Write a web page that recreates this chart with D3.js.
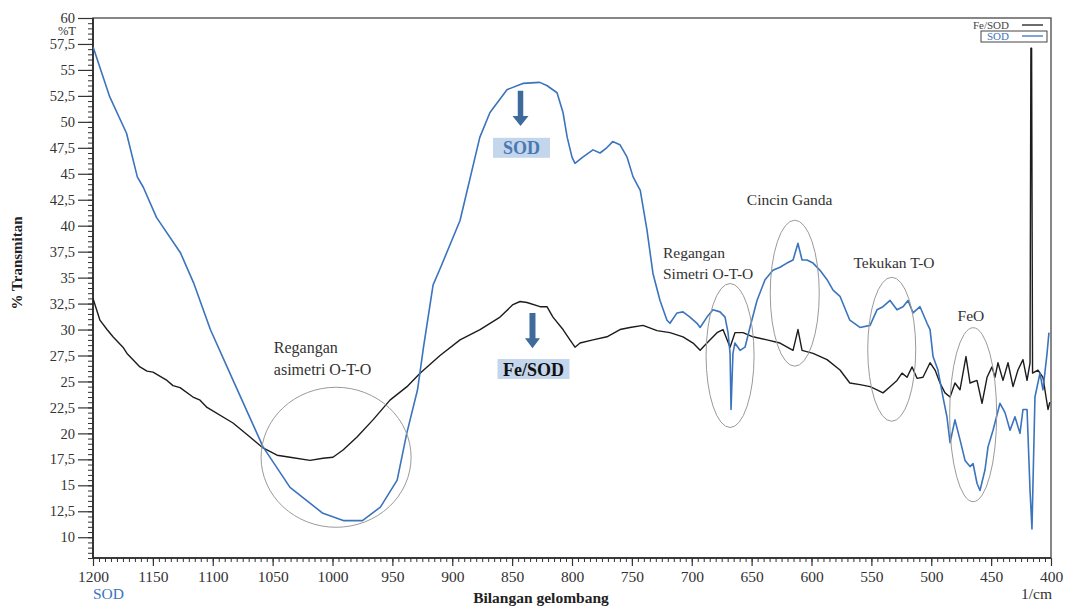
<!DOCTYPE html>
<html>
<head>
<meta charset="utf-8">
<script src="https://cdn.jsdelivr.net/npm/d3@7"></script>
<style>
  body { margin: 0; background: #fff; }
  svg { display: block; }
  text { font-family: "Liberation Serif", "Times New Roman", serif; }
</style>
</head>
<body>
<svg id="chart" width="1065" height="607"></svg>
<script>
// FTIR spectra: wavenumber (1/cm) and % transmittance
const sodWavenumber = [1200, 1199, 1186, 1172, 1163, 1158, 1147, 1127, 1116, 1102, 1083, 1058, 1035.5, 1008, 991, 975, 960, 946, 938, 929, 924, 916, 910, 893.5, 877, 868.5, 854.3, 841, 827, 821, 812.5, 807.5, 804, 800, 797.5, 791, 782.5, 776.6, 771, 766, 760, 754, 749, 743, 737.4, 732.4, 726.5, 720.7, 718.2, 712.3, 707.3, 701.5, 695.6, 693, 687.3, 682.3, 676.4, 672.2, 669.7, 668, 667.2, 665.6, 664, 659.7, 655.5, 651.4, 645.5, 638.8, 632.2, 626.3, 620.5, 615.4, 611.3, 607.9, 603.8, 598.7, 592.9, 587, 582, 576.2, 568, 559.5, 551.1, 545.3, 540.3, 534.4, 528.6, 523.6, 519.4, 515.2, 509.4, 503.5, 501, 498.5, 494.4, 490.2, 486.9, 484.3, 480.2, 476, 471.8, 467.6, 465.1, 461.8, 459.3, 455.1, 452.6, 448.4, 442.6, 438.4, 434.2, 430.1, 425.9, 423.4, 420, 417.5, 415.9, 413.4, 409.2, 406.7, 403.3, 401.7];
const sodTransmittance = [57.2, 56.9, 52.4, 48.9, 44.7, 43.7, 40.8, 37.4, 34.5, 30.0, 25.1, 18.7, 14.8, 12.3, 11.6, 11.6, 12.9, 15.5, 20.0, 24.2, 28.3, 34.3, 35.9, 40.5, 48.5, 50.9, 53.1, 53.7, 53.8, 53.5, 52.8, 50.9, 48.5, 46.6, 46.0, 46.6, 47.3, 47.0, 47.5, 48.1, 47.8, 46.6, 44.7, 43.4, 39.6, 35.4, 32.8, 30.9, 30.6, 31.6, 31.7, 31.2, 30.6, 30.2, 31.2, 31.9, 31.7, 31.2, 29.7, 27.7, 22.3, 27.7, 28.7, 28.0, 28.3, 30.2, 32.8, 34.8, 35.7, 36.0, 36.4, 36.7, 38.3, 36.7, 36.7, 36.4, 35.7, 34.8, 33.8, 33.2, 30.9, 30.2, 30.4, 31.9, 32.2, 32.8, 31.9, 32.2, 32.8, 31.6, 32.2, 30.6, 30.0, 27.4, 26.1, 23.5, 21.6, 19.1, 21.3, 19.4, 17.4, 16.8, 17.1, 15.2, 14.5, 16.5, 18.7, 20.3, 22.9, 22.0, 20.3, 21.6, 20.0, 22.3, 22.3, 14.5, 10.8, 23.5, 25.8, 24.2, 27.7, 29.7];

const feSodWavenumber = [1200, 1194.2, 1188.3, 1183.3, 1175, 1171.6, 1160.8, 1154.9, 1149.9, 1138.2, 1133.2, 1127.3, 1116.5, 1110.6, 1104.8, 1083.1, 1068.9, 1058, 1046.3, 1035.5, 1018.8, 1007.9, 999.6, 991.2, 979.5, 966.2, 952, 937.8, 926.9, 910.2, 893.5, 876.8, 860.1, 849.3, 843.4, 837.6, 826.7, 820.9, 815.9, 807.5, 801.7, 797.5, 793.3, 782.5, 770.8, 759.9, 751.6, 740.7, 729, 718.2, 707.3, 698.9, 693, 687.3, 678.9, 673.9, 668, 663.9, 657.2, 648.9, 637.2, 626.3, 615.4, 611.3, 607.9, 598.7, 587, 576.2, 568, 559.5, 551.1, 545.3, 540.3, 534.4, 528.6, 524.4, 520.2, 516, 511.9, 506.9, 501, 496.8, 492.7, 488.5, 484.3, 480.2, 476, 471, 467.6, 461.8, 457.6, 453.4, 449.3, 446.8, 444.3, 440.1, 435.9, 431.7, 427.6, 423.4, 420, 417.5, 416.8, 416.2, 415.4, 410.9, 406.7, 402.5, 401];
const feSodTransmittance = [33.0, 30.9, 30.0, 29.3, 28.3, 27.7, 26.4, 26.0, 25.9, 25.1, 24.6, 24.4, 23.5, 23.2, 22.5, 21.0, 19.65, 18.6, 17.9, 17.7, 17.4, 17.6, 17.7, 18.4, 19.65, 21.3, 23.2, 24.5, 25.8, 27.5, 29.0, 30.0, 31.2, 32.4, 32.7, 32.6, 32.2, 32.2, 31.2, 30.0, 29.0, 28.3, 28.7, 29.0, 29.3, 30.0, 30.2, 30.4, 29.9, 29.7, 29.3, 28.7, 28.0, 28.7, 29.7, 30.0, 28.3, 29.7, 29.7, 29.3, 29.0, 28.7, 28.0, 30.0, 28.0, 27.7, 27.1, 26.1, 24.85, 24.7, 24.5, 24.2, 23.9, 24.5, 25.1, 25.8, 25.4, 26.4, 25.3, 25.4, 26.8, 26.1, 24.85, 23.9, 23.5, 24.85, 24.2, 27.4, 24.85, 25.1, 22.9, 25.4, 26.4, 25.4, 26.8, 25.1, 26.8, 24.5, 26.1, 27.1, 25.1, 26.8, 57.1, 57.1, 25.8, 26.1, 25.4, 22.3, 23.0];

const xTickValues = [1200, 1150, 1100, 1050, 1000, 950, 900, 850, 800, 750, 700, 650, 600, 550, 500, 450, 400];
const yTickValues = [10, 12.5, 15, 17.5, 20, 22.5, 25, 27.5, 30, 32.5, 35, 37.5, 40, 42.5, 45, 47.5, 50, 52.5, 55, 57.5, 60];

const BLUE = "#3b74bd";
const BLACK = "#1c1c1c";

const svg = d3.select("#chart");
const plotLeft = 93, plotRight = 1051, plotTop = 18, plotBottom = 558;

const x = d3.scaleLinear().domain([1200, 400]).range([plotLeft, plotRight]);
const y = d3.scaleLinear().domain([8, 60]).range([plotBottom, plotTop]);

svg.append("defs").append("clipPath").attr("id", "plotClip")
  .append("rect").attr("x", plotLeft).attr("y", plotTop)
  .attr("width", plotRight - plotLeft).attr("height", plotBottom - plotTop);

// ---- axes ----
const fmt = d => String(d).replace(".", ",");

const yMinor = d3.range(8, 60.01, 0.5);
svg.append("g").attr("transform", `translate(${plotLeft},0)`)
  .call(d3.axisLeft(y).tickValues(yMinor).tickSize(5).tickFormat(""))
  .call(g => g.select(".domain").remove())
  .call(g => g.selectAll("line").attr("stroke", "#333").attr("stroke-width", 1));

svg.append("g").attr("transform", `translate(${plotLeft},0)`)
  .call(d3.axisLeft(y).tickValues(yTickValues).tickSize(15).tickPadding(3).tickFormat(fmt))
  .call(g => g.select(".domain").remove())
  .call(g => g.selectAll("line").attr("stroke", "#333").attr("stroke-width", 1.2))
  .call(g => g.selectAll("text").attr("font-size", 14.5).attr("fill", "#333")
    .attr("font-family", "Liberation Serif, serif"));

const xMinor = d3.range(400, 1200.01, 5);
svg.append("g").attr("transform", `translate(0,${plotBottom})`)
  .call(d3.axisBottom(x).tickValues(xMinor).tickSize(4).tickFormat(""))
  .call(g => g.select(".domain").remove())
  .call(g => g.selectAll("line").attr("stroke", "#333").attr("stroke-width", 1));

svg.append("g").attr("transform", `translate(0,${plotBottom})`)
  .call(d3.axisBottom(x).tickValues(xTickValues).tickSize(8).tickPadding(5).tickFormat(d => d))
  .call(g => g.select(".domain").remove())
  .call(g => g.selectAll("line").attr("stroke", "#333").attr("stroke-width", 1.2))
  .call(g => g.selectAll("text").attr("font-size", 15.5).attr("fill", "#333")
    .attr("font-family", "Liberation Serif, serif"));

// frame
svg.append("rect").attr("x", plotLeft).attr("y", plotTop)
  .attr("width", plotRight - plotLeft).attr("height", plotBottom - plotTop)
  .attr("fill", "none").attr("stroke", "#555").attr("stroke-width", 1.4);
svg.append("line").attr("x1", plotLeft).attr("x2", plotLeft).attr("y1", plotTop).attr("y2", plotBottom)
  .attr("stroke", "#222").attr("stroke-width", 1.6);
svg.append("line").attr("x1", plotLeft).attr("x2", plotRight).attr("y1", plotBottom).attr("y2", plotBottom)
  .attr("stroke", "#222").attr("stroke-width", 1.6);

// axis captions
svg.append("text").attr("x", 76).attr("y", 34.5).attr("text-anchor", "end")
  .attr("font-size", 12.5).attr("fill", "#333").text("%T");
svg.append("text").attr("transform", "translate(22,263) rotate(-90)").attr("text-anchor", "middle")
  .attr("font-size", 15).attr("font-weight", "bold").attr("fill", "#222").text("% Transmitan");
svg.append("text").attr("x", 93).attr("y", 599).attr("font-size", 15.5).attr("fill", BLUE).text("SOD");
svg.append("text").attr("x", 541).attr("y", 603).attr("text-anchor", "middle")
  .attr("font-size", 15.5).attr("font-weight", "bold").attr("fill", "#222").text("Bilangan gelombang");
svg.append("text").attr("x", 1052).attr("y", 599).attr("text-anchor", "end")
  .attr("font-size", 15.5).attr("fill", "#333").text("1/cm");

// ---- spectra ----
const sodData = sodWavenumber.map((w, i) => ({ w, t: sodTransmittance[i] }));
const feSodData = feSodWavenumber.map((w, i) => ({ w, t: feSodTransmittance[i] }));
const line = d3.line().x(d => x(d.w)).y(d => y(d.t));

const plot = svg.append("g").attr("clip-path", "url(#plotClip)");
plot.append("path").datum(feSodData).attr("d", line)
  .attr("fill", "none").attr("stroke", BLACK).attr("stroke-width", 1.4).attr("stroke-linejoin", "round");
plot.append("path").datum(sodData).attr("d", line)
  .attr("fill", "none").attr("stroke", BLUE).attr("stroke-width", 1.6).attr("stroke-linejoin", "round");

// ---- band annotations ----
const ann = svg.append("g");
const ellipses = [
  { w: 997, t: 17.7, rx: 75, ry: 70 },
  { w: 668, t: 27.5, rx: 24, ry: 72 },
  { w: 614, t: 33.5, rx: 24.5, ry: 73 },
  { w: 533, t: 28.1, rx: 24, ry: 72 },
  { w: 465, t: 21.8, rx: 23.5, ry: 87 }
];
ann.selectAll("ellipse").data(ellipses).join("ellipse")
  .attr("cx", d => x(d.w)).attr("cy", d => y(d.t)).attr("rx", d => d.rx).attr("ry", d => d.ry)
  .attr("fill", "none").attr("stroke", "#9a9a9a").attr("stroke-width", 1);

const labels = [
  { w: 1049, t: 27.7, text: "Regangan", size: 16 },
  { w: 1049, t: 25.6, text: "asimetri O-T-O", size: 16 },
  { w: 724, t: 36.9, text: "Regangan", size: 15.5 },
  { w: 724, t: 34.9, text: "Simetri O-T-O", size: 15.5 },
  { w: 654, t: 42.0, text: "Cincin Ganda", size: 15.5 },
  { w: 565, t: 35.9, text: "Tekukan T-O", size: 15.5 },
  { w: 478, t: 30.8, text: "FeO", size: 15.5 }
];
ann.selectAll("text.lbl").data(labels).join("text").attr("class", "lbl")
  .attr("x", d => x(d.w)).attr("y", d => y(d.t)).attr("font-size", d => d.size)
  .attr("fill", "#333").text(d => d.text);

// arrows pointing at each spectrum
const ARROW = "#3f6b9c";
function arrow(w, tTop, tTip, shaft, head) {
  const cx = x(w), y0 = y(tTop), y1 = y(tTip), hh = 10;
  const p = d3.path();
  p.moveTo(cx - shaft / 2, y0); p.lineTo(cx + shaft / 2, y0); p.lineTo(cx + shaft / 2, y1 - hh);
  p.lineTo(cx + head / 2, y1 - hh); p.lineTo(cx, y1); p.lineTo(cx - head / 2, y1 - hh);
  p.lineTo(cx - shaft / 2, y1 - hh); p.closePath();
  ann.append("path").attr("d", p.toString()).attr("fill", ARROW);
}
arrow(843, 53.0, 49.6, 5.5, 16);
arrow(833, 31.6, 28.2, 6, 15);

// spectrum tags
const tags = [
  { w: 843, t: 47.5, width: 57, height: 20, text: "SOD", color: "#4a78b2" },
  { w: 833, t: 26.2, width: 72, height: 20, text: "Fe/SOD", color: "#111" }
];
tags.forEach(d => {
  const cx = x(d.w) + 1, cy = y(d.t);
  ann.append("rect").attr("x", cx - d.width / 2).attr("y", cy - d.height / 2)
    .attr("width", d.width).attr("height", d.height).attr("fill", "#c3d6ec");
  ann.append("text").attr("x", cx).attr("y", cy + 6.5).attr("text-anchor", "middle")
    .attr("font-size", 18).attr("font-weight", "bold").attr("fill", d.color).text(d.text);
});

// legend
const legend = svg.append("g");
legend.append("text").attr("x", 1009).attr("y", 29).attr("text-anchor", "end")
  .attr("font-size", 11).attr("fill", "#444").text("Fe/SOD");
legend.append("line").attr("x1", 1022).attr("x2", 1043).attr("y1", 25).attr("y2", 25)
  .attr("stroke", BLACK).attr("stroke-width", 1.3);
legend.append("rect").attr("x", 981).attr("y", 31).attr("width", 66).attr("height", 11)
  .attr("fill", "none").attr("stroke", "#444").attr("stroke-width", 1);
legend.append("text").attr("x", 1009).attr("y", 40).attr("text-anchor", "end")
  .attr("font-size", 11).attr("fill", BLUE).text("SOD");
legend.append("line").attr("x1", 1022).attr("x2", 1043).attr("y1", 36).attr("y2", 36)
  .attr("stroke", BLUE).attr("stroke-width", 1.3);
</script>
</body>
</html>
